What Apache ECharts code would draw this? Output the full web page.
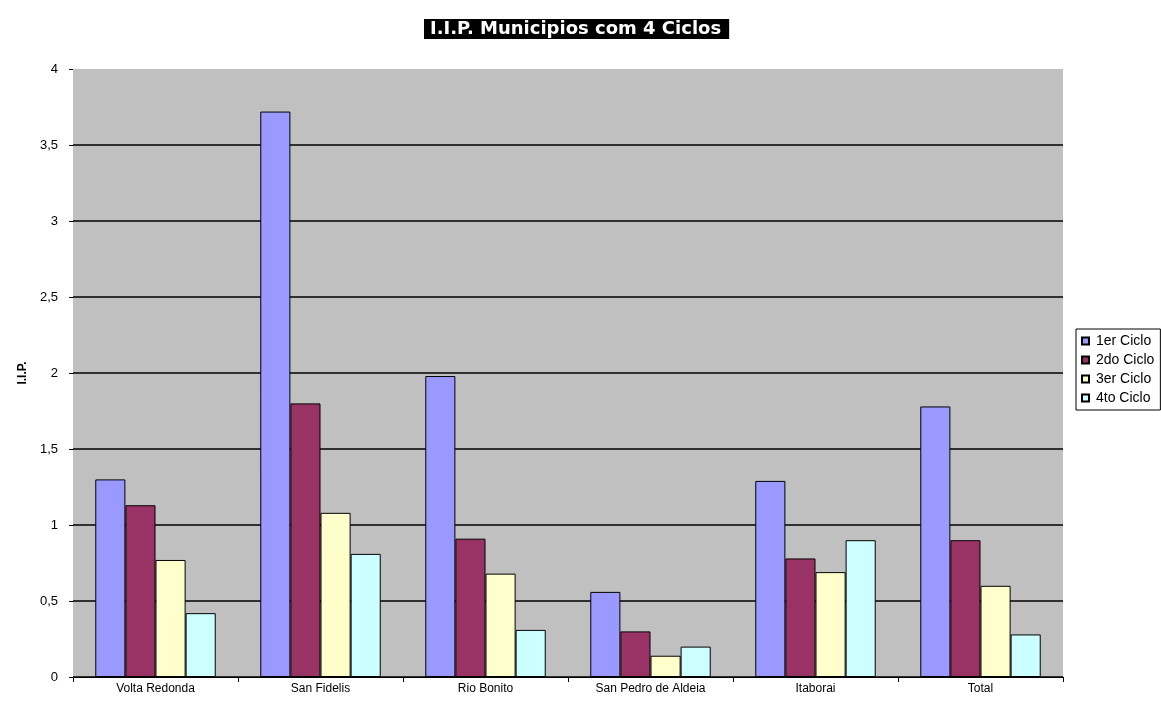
<!DOCTYPE html>
<html>
<head>
<meta charset="utf-8">
<script src="https://cdn.jsdelivr.net/npm/echarts@6/dist/echarts.min.js"></script>
<style>html,body{margin:0;padding:0;background:#fff;}#c{width:1161px;height:705px;}</style>
</head>
<body>
<div id="c"></div>
<script>
var categories = ['Volta Redonda', 'San Fidelis', 'Rio Bonito', 'San Pedro de Aldeia', 'Itaborai', 'Total'];
var seriesNames = ['1er Ciclo', '2do Ciclo', '3er Ciclo', '4to Ciclo'];
var ciclo1 = [1.30, 3.72, 1.98, 0.56, 1.29, 1.78];
var ciclo2 = [1.13, 1.80, 0.91, 0.30, 0.78, 0.90];
var ciclo3 = [0.77, 1.08, 0.68, 0.14, 0.69, 0.60];
var ciclo4 = [0.42, 0.81, 0.31, 0.20, 0.90, 0.28];
var yTicks = [0, 0.5, 1, 1.5, 2, 2.5, 3, 3.5, 4];

var colors = ['#9999ff', '#993366', '#ffffcc', '#ccffff'];
var values = [ciclo1, ciclo2, ciclo3, ciclo4];
var font = 'Liberation Sans, Arial, sans-serif';

var chart = echarts.init(document.getElementById('c'), null, {renderer: 'canvas'});
chart.setOption({
  animation: false,
  backgroundColor: '#ffffff',
  title: {
    text: 'I.I.P. Municipios com 4 Ciclos',
    left: 424, top: 19,
    backgroundColor: '#000000',
    padding: [1, 8, 0, 6],
    textStyle: {color: '#ffffff', fontFamily: 'DejaVu Sans, sans-serif', fontWeight: 'bold', fontSize: 18, lineHeight: 19}
  },
  legend: {
    orient: 'vertical',
    left: 1076, top: 329,
    backgroundColor: '#ffffff',
    borderColor: '#000000', borderWidth: 1, borderRadius: 0,
    padding: [5, 6, 5, 5],
    itemWidth: 7, itemHeight: 7, itemGap: 5,
    icon: 'rect',
    textStyle: {color: '#000', fontFamily: font, fontSize: 14, padding: [0, 0, 0, 2]},
    data: seriesNames
  },
  grid: {
    left: 73, right: 98, top: 69, bottom: 28,
    show: true, backgroundColor: '#c0c0c0', borderWidth: 0
  },
  xAxis: {
    type: 'category',
    data: categories,
    axisLine: {lineStyle: {color: '#000', width: 1}},
    axisTick: {show: true, length: 5, lineStyle: {color: '#000'}},
    axisLabel: {color: '#000', fontFamily: font, fontSize: 12, margin: 6}
  },
  yAxis: {
    type: 'value',
    min: 0, max: 4, interval: 0.5,
    name: 'I.I.P.',
    nameLocation: 'middle', nameGap: 37, nameRotate: 90,
    nameTextStyle: {color: '#000', fontFamily: font, fontSize: 12, fontWeight: 'bold'},
    axisLine: {show: false},
    axisTick: {show: true, length: 4, lineStyle: {color: '#000'}},
    axisLabel: {color: '#000', fontFamily: font, fontSize: 13, margin: 15,
      formatter: function (v) { return String(v).replace('.', ','); }},
    splitLine: {show: true, showMaxLine: false, lineStyle: {color: '#000', width: 1.5}}
  },
  series: values.map(function (arr, i) {
    return {
      name: seriesNames[i],
      type: 'bar',
      data: arr,
      barGap: '0%',
      barCategoryGap: '27%',
      itemStyle: {color: colors[i], borderColor: '#000', borderWidth: 1}
    };
  })
});
</script>
</body>
</html>
